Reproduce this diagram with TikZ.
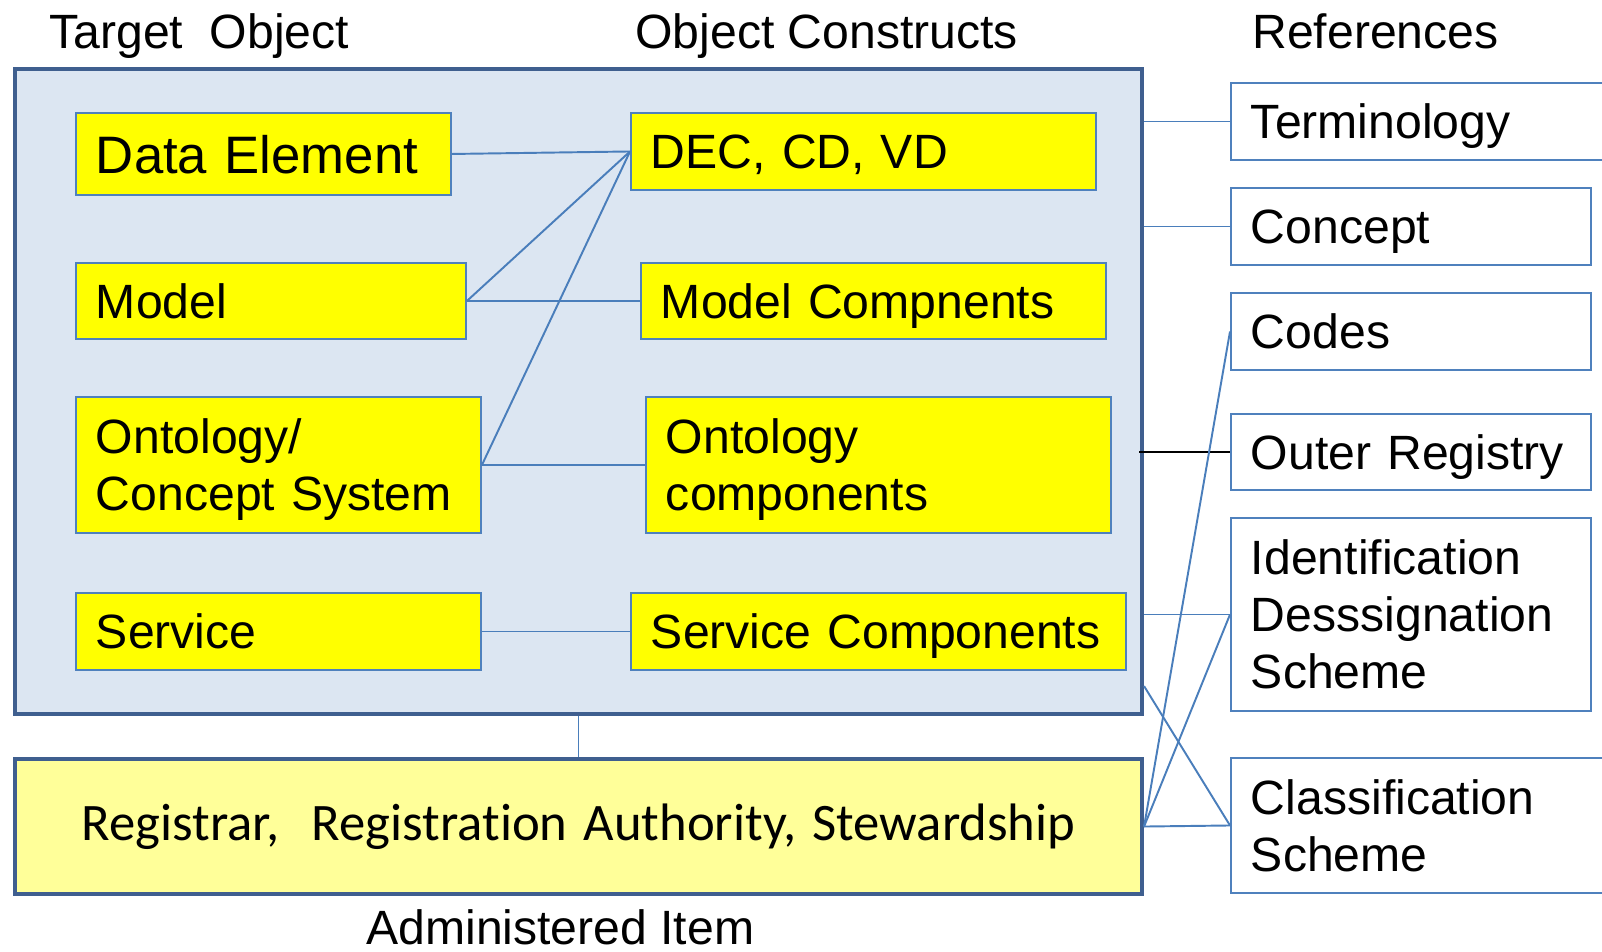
\documentclass[tikz,border=0pt]{standalone}
\usepackage{fontspec}
\setmainfont{Liberation Sans}
\newfontfamily\calibri[Ligatures=NoCommon]{Carlito}
\definecolor{boxblue}{HTML}{4F81BD}
\definecolor{frameblue}{HTML}{3F5F8F}
\definecolor{lineblue}{HTML}{4A7EBB}
\definecolor{paleblue}{HTML}{DCE6F2}
\definecolor{paleyellow}{HTML}{FFFF99}
\definecolor{boxyellow}{HTML}{FFFF00}
\begin{document}
\begin{tikzpicture}[x=0.02cm,y=-0.02cm,
  every node/.style={font=\fontsize{27.4}{32.4}\selectfont},
  sz/.style 2 args={minimum width=#1*0.02cm,minimum height=#2*0.02cm,text width=#1*0.02cm-0.8cm},
  lines/.style={text depth=#1*32.4pt},
  target/.style={draw=boxblue,line width=1.1pt,fill=boxyellow,anchor=north west,inner xsep=0.4cm,inner ysep=0pt,align=left,lines=0},
  refbox/.style={target,fill=white},
  frame/.style={draw=frameblue,line width=2.3pt,anchor=north west,inner xsep=0.4cm,inner ysep=0pt},
  heading/.style={anchor=base west,inner sep=0pt},
  link/.style={draw=lineblue,line width=1.1pt}]
\useasboundingbox (0,0) rectangle (1602,951);
\node[frame,fill=paleblue,sz={1127}{645}] (objects) at (13,67) {};
\node[frame,fill=paleyellow,sz={1127}{135},align=center] (admin) at (13,757) {\calibri\fontsize{30}{36}\selectfont Registrar,\ \ Registration Authority, Stewardship};
\node[heading] (tgthead) at (49,48) {Target\ \ Object};
\node[heading] (objhead) at (635,48) {Object Constructs};
\node[heading] (refhead) at (1252,48) {References};
\node[heading] (adminhead) at (366,944) {Administered Item};
\node[target,sz={375}{82},font=\fontsize{30}{36}\selectfont] (dataelem) at (75,112) {Data Element};
\node[target,sz={390}{76}] (model) at (75,262) {Model};
\node[target,sz={405}{136},lines=1] (ontology) at (75,396) {Ontology/\\Concept System};
\node[target,sz={405}{77}] (service) at (75,592) {Service};
\node[target,sz={465}{77}] (dec) at (630,112) {DEC, CD, VD};
\node[target,sz={465}{76}] (modelcomp) at (640,262) {Model Compnents};
\node[target,sz={465}{136},lines=1] (ontocomp) at (645,396) {Ontology\\components};
\node[target,sz={495}{77}] (servcomp) at (630,592) {Service Components};
\node[refbox,sz={400}{77}] (term) at (1230,82) {Terminology};
\node[refbox,sz={360}{77}] (concept) at (1230,187) {Concept};
\node[refbox,sz={360}{77}] (codes) at (1230,292) {Codes};
\node[refbox,sz={360}{76}] (outer) at (1230,413) {Outer Registry};
\node[refbox,sz={360}{193},lines=2] (ident) at (1230,517) {Identification\\Desssignation\\Scheme};
\node[refbox,sz={400}{135},lines=1] (classif) at (1230,757) {Classification\\Scheme};
\coordinate (objlow) at ([yshift=0.6cm]objects.south east);
\foreach \a/\b in {dataelem/dec,model/dec,model/modelcomp,ontology/dec,ontology/ontocomp,service/servcomp}
  \draw[link] (\a.east) -- (\b.west);
\foreach \b in {term,concept,ident}
  \draw[link] (objects.east |- \b.west) -- (\b.west);
\draw[line width=1.1pt] ([xshift=-0.1cm]objects.east |- outer.west) -- (outer.west);
\foreach \b in {codes,ident,classif}
  \draw[link] (admin.east) -- (\b.west);
\draw[link] (objlow) -- (classif.west);
\draw[link] (objects.south) -- (admin.north);
\end{tikzpicture}
\end{document}
